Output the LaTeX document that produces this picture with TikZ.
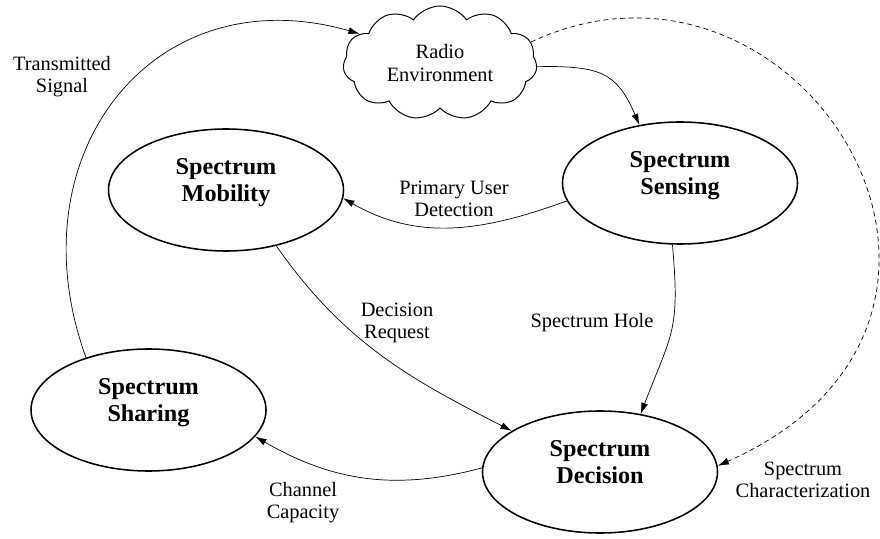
\documentclass[tikz,border=0pt]{standalone}
\usepackage{fontspec}
\setmainfont{Liberation Serif}
\usetikzlibrary{shapes.geometric,shapes.symbols,arrows.meta}

\begin{document}
\begin{tikzpicture}[
    block/.style={draw, ellipse, line width=1.1pt, minimum width=5.875cm, minimum height=3.05cm,
        inner sep=0pt, text depth=14pt, align=center, font=\fontsize{17.2}{19.2}\selectfont\bfseries},
    lbl/.style={align=center, font=\fontsize{14.5}{15.8}\selectfont},
    link/.style={-{Latex[length=8pt,width=5pt]}, line width=0.5pt},
]
    \useasboundingbox (0,0) rectangle (22,13.45);

    % Radio environment (cloud)
    \node[draw, cloud, cloud puffs=11, cloud puff arc=110, cloud ignores aspect, line width=0.7pt,
        minimum width=4.85cm, minimum height=2.85cm, lbl] (env) at (11, 11.875) {Radio\\Environment};

    % The four functions
    \node[block] (sensing)  at (17, 8.875)    {Spectrum\\Sensing};
    \node[block] (mobility) at (5.65, 8.7)    {Spectrum\\Mobility};
    \node[block] (decision) at (15, 1.65)     {Spectrum\\Decision};
    \node[block] (sharing)  at (3.7125, 3.2)  {Spectrum\\Sharing};

    % Connectors
    \draw[link] (sharing.140) to[out=110, in=164, looseness=1.3] (env.160);
    \draw[link] (env.-2) to[out=0, in=113, looseness=1.3] (sensing.125);
    \draw[link, dashed, dash pattern=on 3.5pt off 2.5pt] (env.13)
        to[out=25, in=24, out looseness=1.65, in looseness=2.0] (decision.3);
    \draw[link] (sensing.189) to[out=200, in=-30] (mobility.-4);
    \draw[link] (mobility.-48) to[out=-55, in=153] (decision.155);
    \draw[link] (sensing.-97) to[out=-85, in=69, looseness=1.3] (decision.55);
    \draw[link] (decision.178) to[out=195, in=-30] (sharing.-14);

    % Labels
    \node[lbl] (tx)   at (1.55, 11.525)  {Transmitted\\Signal};
    \node[lbl] (pud)  at (11.35, 8.475)  {Primary User\\Detection};
    \node[lbl] (req)  at (9.925, 5.375)  {Decision\\Request};
    \node[lbl] (hole) at (14.8, 5.375)   {Spectrum Hole};
    \node[lbl] (cap)  at (7.575, 0.875)  {Channel\\Capacity};
    \node[lbl] (char) at (20.075, 1.45)  {Spectrum\\Characterization};
\end{tikzpicture}
\end{document}
